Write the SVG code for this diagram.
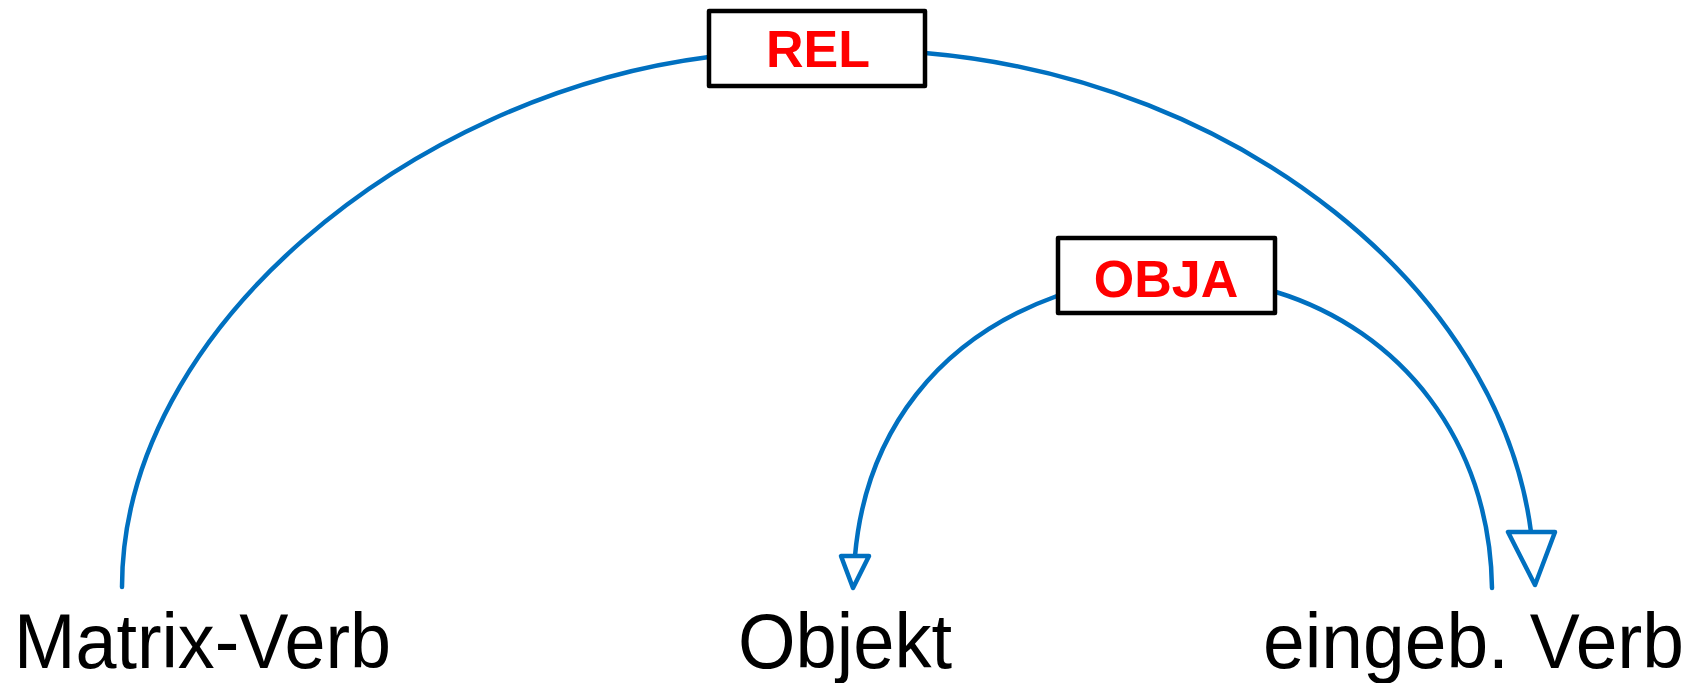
<svg xmlns="http://www.w3.org/2000/svg" width="1701" height="683" viewBox="0 0 1701 683">
<style>
.arc{fill:none;stroke:#0070C0;stroke-width:4.5;stroke-linecap:round}
.head{fill:#fff;stroke:#0070C0;stroke-width:4.5;stroke-linejoin:round}
.box{fill:#fff;stroke:#000;stroke-width:4.5;stroke-linejoin:round}
.lbl{font-family:"Liberation Sans",Arial,sans-serif;font-weight:bold;font-size:52px;fill:#FF0000;text-anchor:middle}
.word{font-family:"Liberation Sans",Arial,sans-serif;font-size:78px;fill:#000}
</style>
<rect width="1701" height="683" fill="#fff"/>
<g id="connectors">
<path class="arc" d="M122,587 C122,330 410,95 709,57"/>
<path class="arc" d="M925,53 C1240,80 1500,290 1531,532"/>
<polygon class="head" points="1508,532 1555,532 1535,585"/>
<path class="arc" d="M1057,296 C940,338 866,430 855,556"/>
<polygon class="head" points="841,556 869,556 853,588"/>
<path class="arc" d="M1276,292 C1400,330 1490,440 1492,588"/>
</g>
<g id="rel">
<rect class="box" x="709" y="11" width="216" height="75"/>
<text class="lbl" x="818" y="67">REL</text>
</g>
<g id="obja">
<rect class="box" x="1058" y="238" width="217" height="75"/>
<text class="lbl" x="1166" y="297">OBJA</text>
</g>
<g id="matrix-verb"><text class="word" x="14" y="668" textLength="377" lengthAdjust="spacingAndGlyphs">Matrix-Verb</text></g>
<g id="objekt"><text class="word" x="738" y="668" textLength="214" lengthAdjust="spacingAndGlyphs">Objekt</text></g>
<g id="eingeb-verb"><text class="word" x="1263" y="668" textLength="421" lengthAdjust="spacingAndGlyphs">eingeb. Verb</text></g>
</svg>
